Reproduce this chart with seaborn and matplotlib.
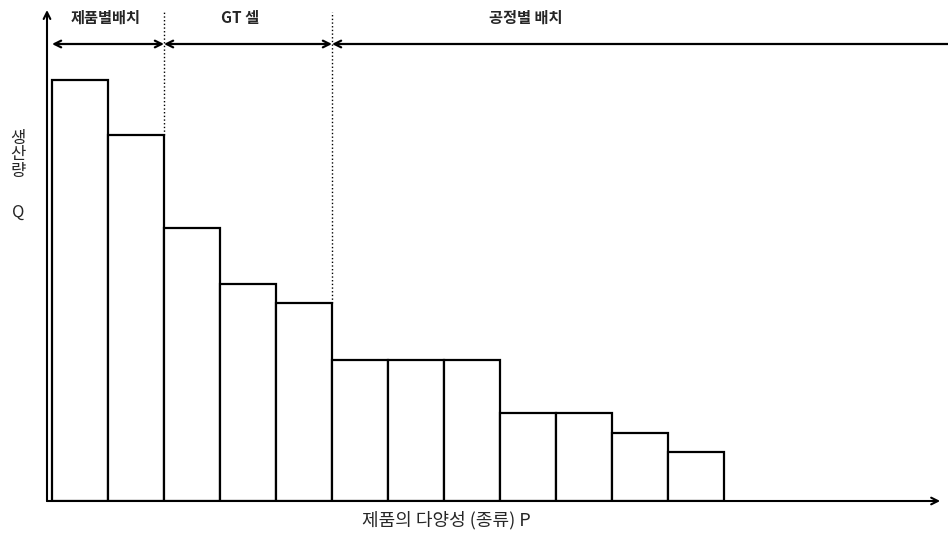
import numpy as np
import pandas as pd
import seaborn as sns
import matplotlib.pyplot as plt

# P-Q chart: products ordered by production quantity
products = [f"P{i+1}" for i in range(12)]
quantity = [421, 366, 273, 217, 198, 141, 141, 141, 88, 88, 68, 49]

# layout zones (bar index boundaries) and their labels
zone_edges = [-0.5, 1.5, 4.5, 15.5]
zone_labels = ["제품별배치", "GT 셀", "공정별 배치"]
zone_label_x = [0.45, 2.86, 7.96]

sns.set_theme(style="white")
plt.rcParams["font.family"] = ["Noto Sans CJK KR", "DejaVu Sans"]

df = pd.DataFrame({"product": products, "quantity": quantity})

fig = plt.figure(figsize=(9.48, 5.35), dpi=100)
ax = fig.add_axes([47 / 948, 1 - 501 / 535, 1 - 47 / 948, 491 / 535])

sns.barplot(data=df, x="product", y="quantity", width=1.0, color="white",
            edgecolor="black", linewidth=1.6, saturation=1, ax=ax)

x_left = -0.5 - 5 / 56
ax.set_xlim(x_left, 15.5)
ax.set_ylim(0, 491)
for s in ax.spines.values():
    s.set_visible(False)
ax.set_xticks([])
ax.set_yticks([])
ax.set_xlabel("")
ax.set_ylabel("")

# axes with arrows
ax.annotate("", xy=(x_left, 491), xytext=(x_left, 0),
            arrowprops=dict(arrowstyle="->", color="black", lw=1.5,
                            shrinkA=0, shrinkB=0))
ax.annotate("", xy=(15.36, 0), xytext=(x_left, 0),
            arrowprops=dict(arrowstyle="->", color="black", lw=1.5,
                            shrinkA=0, shrinkB=0))

# zone brackets on top (last one open to the right)
y_br = 457
for i in range(3):
    style = "<->" if i < 2 else "->"
    ax.annotate("", xy=(zone_edges[i], y_br), xytext=(zone_edges[i + 1], y_br),
                arrowprops=dict(arrowstyle=style, color="black", lw=1.6,
                                shrinkA=0, shrinkB=0))
    ax.text(zone_label_x[i], 483, zone_labels[i], ha="center", va="center",
            fontsize=11, fontweight="bold")

# dotted zone separators
ax.plot([1.5, 1.5], [quantity[1], 489], ls=":", color="black", lw=1)
ax.plot([4.5, 4.5], [quantity[4], 489], ls=":", color="black", lw=1)

# axis labels
fig.text(18 / 948, 1 - 155 / 535, "생\n산\n량", ha="center", va="center",
         fontsize=12, linespacing=0.95)
fig.text(18 / 948, 1 - 212 / 535, "Q", ha="center", va="center", fontsize=12)
fig.text(446 / 948, 1 - 520 / 535, "제품의 다양성 (종류) P", ha="center",
         va="center", fontsize=13)

fig.savefig("out.png", dpi=100)
